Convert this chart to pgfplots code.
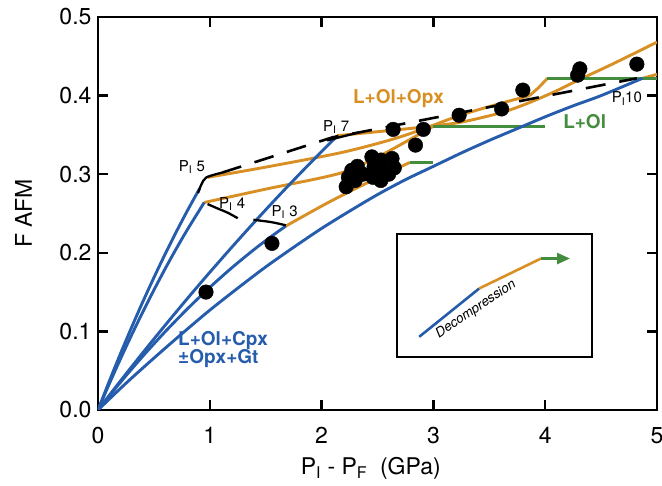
\documentclass[border=0pt]{standalone}
\usepackage{fontspec}
\setmainfont{TeX Gyre Heros}
\usepackage{pgfplots}
\pgfplotsset{compat=1.18}
\usetikzlibrary{arrows.meta}
\definecolor{cblue}{RGB}{38,92,172}
\definecolor{corange}{RGB}{216,143,36}
\definecolor{cgreen}{RGB}{68,140,62}
\newcommand\fs[1]{\fontsize{#1}{#1}\selectfont}
\begin{document}
\begin{tikzpicture}
\begin{axis}[
  scale only axis, width=559pt, height=393pt,
  xmin=0, xmax=5, ymin=0, ymax=0.5,
  xtick={0,1,2,3,4,5}, ytick={0,0.1,0.2,0.3,0.4,0.5},
  tick align=inside, major tick length=10pt,
  axis line style={line width=2.5pt},
  every tick/.append style={black, line width=2.5pt},
  /pgf/number format/assume math mode=true,
  tick label style={font=\fs{23}},
  yticklabel style={/pgf/number format/fixed, /pgf/number format/fixed zerofill, /pgf/number format/precision=1, xshift=-3pt},
  xticklabel style={yshift=-14pt},
  xlabel={P\textsubscript{I} - P\textsubscript{F}\ \ (GPa)},
  ylabel={F AFM},
  xlabel style={font=\fs{23}, at={(axis description cs:0.488,0)}, anchor=base, yshift=-65pt},
  ylabel style={font=\fs{23}, at={(axis description cs:-0.1333,0.5)}, anchor=center},
]
\coordinate (O) at (rel axis cs:0,0);
% orange (L+Ol+Opx)
\addplot[corange, line width=2.9pt, smooth] coordinates {(0.98,0.296) (1.5,0.309) (2.16,0.327) (2.6,0.343) (2.9,0.357) (3.24,0.375) (3.6,0.39) (3.86,0.40)};
\addplot[corange, line width=2.9pt] coordinates {(3.86,0.40) (3.94,0.41) (4.02,0.422)};
\addplot[corange, line width=2.9pt, smooth] coordinates {(0.95,0.264) (1.5,0.281) (2.16,0.301) (2.5,0.322) (2.75,0.341) (3.0,0.361)};
\addplot[corange, line width=2.9pt, smooth] coordinates {(1.68,0.234) (2.06,0.264) (2.45,0.292) (2.79,0.315)};
\addplot[corange, line width=2.9pt, smooth] coordinates {(2.14,0.349) (2.64,0.356) (2.91,0.36) (3.24,0.366) (3.6,0.378) (3.84,0.39) (4.1,0.406) (4.3,0.42) (4.6,0.44) (5.0,0.468)};
\addplot[corange, line width=2.9pt] coordinates {(4.87,0.422) (5.0,0.427)};
% green (L+Ol)
\addplot[cgreen, line width=2.9pt] coordinates {(2.79,0.315) (3.0,0.315)};
\addplot[cgreen, line width=2.9pt] coordinates {(3.0,0.361) (4.0,0.361)};
\addplot[cgreen, line width=2.9pt] coordinates {(4.02,0.422) (5.0,0.422)};
% blue (L+Ol+Cpx)
\addplot[cblue, line width=2.9pt, smooth] coordinates {(0,0) (0.1,0.0363) (0.2,0.0713) (0.3,0.1050) (0.4,0.1374) (0.5,0.1684) (0.6,0.1982) (0.7,0.2266) (0.8,0.2537) (0.91,0.2820)};
\addplot[cblue, line width=2.9pt, smooth] coordinates {(0,0) (0.1,0.0330) (0.2,0.0647) (0.3,0.0952) (0.4,0.1245) (0.5,0.1526) (0.6,0.1795) (0.7,0.2052) (0.8,0.2296) (0.95,0.2640)};
\addplot[cblue, line width=2.9pt, smooth] coordinates {(0,0) (0.2,0.0368) (0.4,0.0727) (0.6,0.1077) (0.8,0.1419) (1.0,0.1752) (1.2,0.2076) (1.4,0.2392) (1.6,0.2700) (1.8,0.2998) (2.0,0.3288) (2.14,0.3486)};
\addplot[cblue, line width=2.9pt, smooth] coordinates {(0,0) (0.2,0.0351) (0.4,0.0683) (0.6,0.0995) (0.8,0.1287) (1.0,0.1560) (1.2,0.1813) (1.4,0.2046) (1.55,0.2208) (1.68,0.2340)};
\addplot[cblue, line width=2.9pt, smooth] coordinates {(0,0) (0.25,0.034) (0.5,0.066) (0.75,0.097) (1.0,0.127) (1.25,0.155) (1.5,0.182) (1.75,0.207) (2.0,0.231) (2.25,0.253) (2.5,0.274) (2.75,0.293) (3.0,0.310) (3.25,0.327) (3.5,0.343) (3.75,0.358) (4.0,0.373) (4.25,0.387) (4.5,0.400) (4.87,0.422)};
% black P_I curves
\addplot[black, line width=2.3pt, smooth] coordinates {(0.895,0.276) (0.925,0.287) (0.97,0.296) (1.11,0.302)};
\addplot[black, line width=2.3pt, smooth] coordinates {(0.98,0.262) (1.06,0.257) (1.16,0.251) (1.25,0.244)};
\addplot[black, line width=2.3pt, smooth] coordinates {(1.39,0.242) (1.55,0.239) (1.68,0.235)};
\addplot[black, line width=2.3pt] coordinates {(2.05,0.343) (2.33,0.353)};
\addplot[black, line width=2.6pt, dash pattern=on 20pt off 14pt] coordinates {(1.11,0.302) (2.1,0.347) (2.33,0.353) (4.82,0.422)};
% data points
\addplot[only marks, mark=*, mark size=7.3pt, black] coordinates {
 (0.966,0.150) (1.556,0.212)
 (2.22,0.284) (2.24,0.296) (2.27,0.305) (2.32,0.310) (2.30,0.292) (2.37,0.300)
 (2.45,0.322) (2.47,0.310) (2.46,0.296) (2.53,0.318) (2.55,0.305) (2.53,0.292)
 (2.60,0.300) (2.63,0.320) (2.65,0.308)
 (2.64,0.357) (2.91,0.357) (2.84,0.337)
 (3.23,0.375) (3.61,0.383) (3.80,0.407) (4.29,0.426) (4.31,0.434) (4.82,0.440)};
% inset
\draw[line width=2.5pt] (axis cs:2.674,0.0673) rectangle (axis cs:4.419,0.2236);
\addplot[cblue, line width=2.6pt] coordinates {(2.873,0.0931) (3.41,0.1546)};
\addplot[corange, line width=2.6pt] coordinates {(3.41,0.1546) (3.962,0.1927)};
\addplot[cgreen, line width=2.6pt, -{Triangle[length=13pt,width=11pt]}] coordinates {(3.962,0.1927) (4.222,0.1927)};
\node[font=\fs{13.5}\itshape, rotate=34] at (axis cs:3.38,0.128) {Decompression};
% labels
\node[font=\fs{19}\bfseries, text=corange, anchor=base west, inner sep=0pt] at (axis cs:2.28,0.39) {L+Ol+Opx};
\node[font=\fs{19}\bfseries, text=cgreen, anchor=base west, inner sep=0pt] at (axis cs:4.16,0.358) {L+Ol};
\node[font=\fs{19}\bfseries, text=cblue, anchor=base west, inner sep=0pt] at (axis cs:0.716,0.0826) {L+Ol+Cpx};
\node[font=\fs{19}\bfseries, text=cblue, anchor=base west, inner sep=0pt] at (axis cs:0.716,0.0597) {±Opx+Gt};
\node[font=\fs{15}, inner sep=0pt] at (axis cs:0.84,0.309) {P\textsubscript{I} 5};
\node[font=\fs{15}, inner sep=0pt] at (axis cs:1.20,0.262) {P\textsubscript{I} 4};
\node[font=\fs{15}, inner sep=0pt] at (axis cs:1.67,0.252) {P\textsubscript{I} 3};
\node[font=\fs{15}, inner sep=0pt] at (axis cs:2.13,0.360) {P\textsubscript{I} 7};
\node[font=\fs{15}, inner sep=0pt] at (axis cs:4.73,0.396) {P\textsubscript{I}10};
\end{axis}
\pgfresetboundingbox
\useasboundingbox (O) ++(-98pt,-76pt) rectangle ++(662pt,486pt);
\end{tikzpicture}
\end{document}
